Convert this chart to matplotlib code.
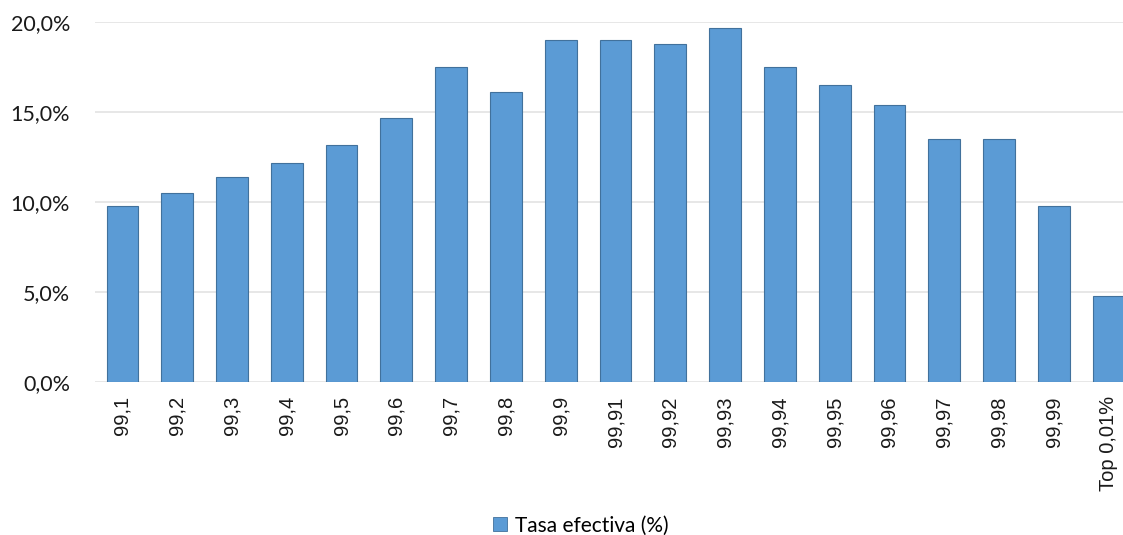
import matplotlib
matplotlib.use("Agg")
import matplotlib.pyplot as plt
from matplotlib.patches import Patch
from matplotlib.ticker import FuncFormatter, MultipleLocator

PERCENTILES = ["99,1", "99,2", "99,3", "99,4", "99,5", "99,6", "99,7", "99,8", "99,9",
               "99,91", "99,92", "99,93", "99,94", "99,95", "99,96", "99,97", "99,98",
               "99,99", "Top 0,01%"]
TASA_EFECTIVA = [9.8, 10.5, 11.4, 12.2, 13.2, 14.7, 17.5, 16.1, 19.0,
                 19.0, 18.8, 19.7, 17.5, 16.5, 15.4, 13.5, 13.5, 9.8, 4.8]
SERIES_LABEL = "Tasa efectiva (%)"

BAR_COLOR = "#5B9BD5"
EDGE_COLOR = "#41719C"
GRID_COLOR = "#E3E3E3"


def pct_label(value, _pos):
    return f"{value:.1f}%".replace(".", ",")


def main():
    fig = plt.figure(figsize=(11.23, 5.35), dpi=100)
    # plot area runs slightly past the right edge, so the last bar is cut
    ax = fig.add_axes([0.0846, 0.2854, 0.927, 0.673])

    x = range(len(PERCENTILES))
    ax.bar(x, TASA_EFECTIVA, width=0.58, color=BAR_COLOR, edgecolor=EDGE_COLOR,
           linewidth=0.8, zorder=3)

    ax.set_xlim(-0.5, len(PERCENTILES) - 0.5)
    ax.set_ylim(0, 20)
    ax.yaxis.set_major_locator(MultipleLocator(5))
    ax.yaxis.set_major_formatter(FuncFormatter(pct_label))
    ax.grid(axis="y", color=GRID_COLOR, linewidth=1.2, zorder=0)

    for side in ["top", "right", "left", "bottom"]:
        ax.spines[side].set_visible(False)
    ax.tick_params(axis="both", length=0)
    ax.tick_params(axis="y", pad=18)
    for label in ax.get_yticklabels():
        label.set_fontfamily("Lato")
        label.set_fontsize(15.5)
        label.set_color("#1a1a1a")

    ax.set_xticks(list(x))
    ax.set_xticklabels(PERCENTILES, rotation=90, fontsize=14.5,
                       fontfamily="Liberation Sans", color="#1a1a1a")
    ax.tick_params(axis="x", pad=10)

    handle = Patch(facecolor=BAR_COLOR, edgecolor=EDGE_COLOR, linewidth=0.6)
    fig.legend([handle], [SERIES_LABEL], loc="center", bbox_to_anchor=(0.517, 0.018),
               frameon=False, prop={"family": "Lato", "size": 15},
               handlelength=0.7, handleheight=0.7, handletextpad=0.35)

    fig.savefig("out.png", dpi=100)
    plt.close(fig)


if __name__ == "__main__":
    main()
